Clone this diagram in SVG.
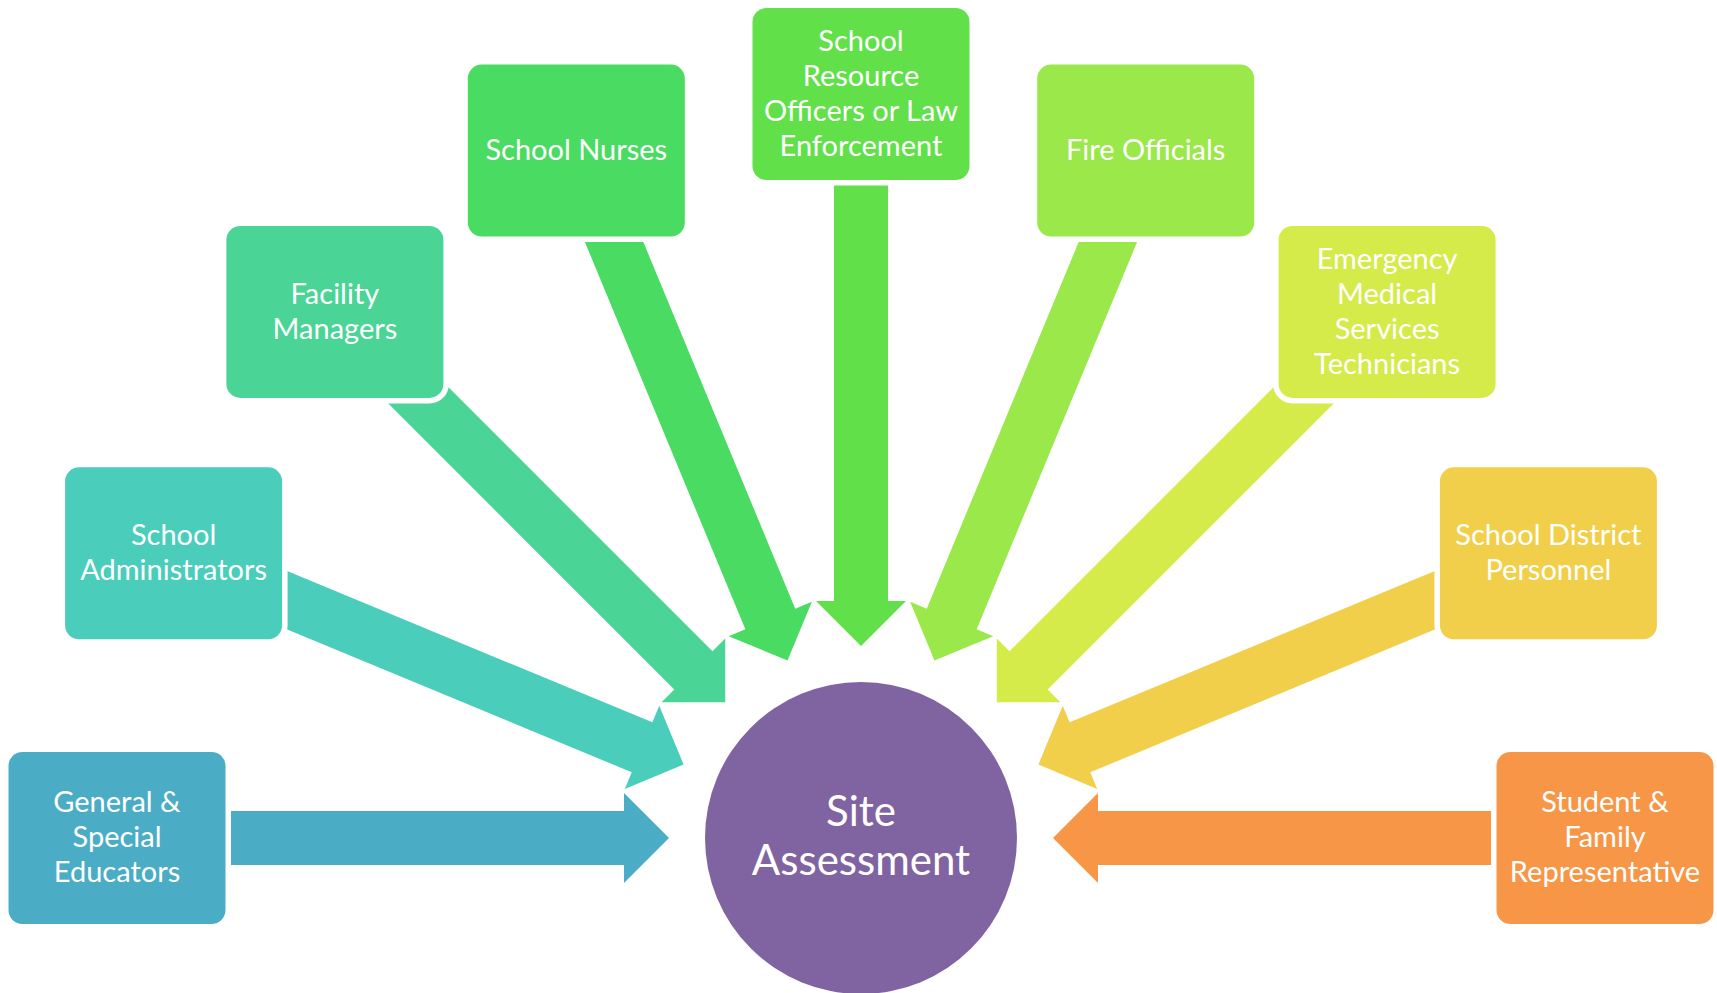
<svg xmlns="http://www.w3.org/2000/svg" xmlns:xlink="http://www.w3.org/1999/xlink" width="1717" height="993" viewBox="0 0 1717 993">
<style>
.box{stroke:#FFFFFF;stroke-width:11;paint-order:stroke}
.lbl{font-family:Lato,"Open Sans","Liberation Sans",sans-serif;font-size:29px;fill:#FFFFFF;text-anchor:middle}
.big{font-family:Lato,"Open Sans","Liberation Sans",sans-serif;font-size:42px;fill:#FFFFFF;text-anchor:middle}
</style>
<defs>
<path id="arr" d="M-744,-27 L-237,-27 L-237,-45 L-192,0 L-237,45 L-237,27 L-744,27 Z"/>
</defs>
<rect width="1717" height="993" fill="#FFFFFF"/>
<g id="connectors">
<use xlink:href="#arr" href="#arr" transform="translate(861,838) rotate(0)" fill="#4BACC6"/>
<use xlink:href="#arr" href="#arr" transform="translate(861,838) rotate(22.5)" fill="#4ACDBB"/>
<use xlink:href="#arr" href="#arr" transform="translate(861,838) rotate(45)" fill="#4AD495"/>
<use xlink:href="#arr" href="#arr" transform="translate(861,838) rotate(67.5)" fill="#4ADB62"/>
<use xlink:href="#arr" href="#arr" transform="translate(861,838) rotate(90)" fill="#61E04A"/>
<use xlink:href="#arr" href="#arr" transform="translate(861,838) rotate(112.5)" fill="#9AE84A"/>
<use xlink:href="#arr" href="#arr" transform="translate(861,838) rotate(135)" fill="#D4EB4A"/>
<use xlink:href="#arr" href="#arr" transform="translate(861,838) rotate(157.5)" fill="#F2CF4A"/>
<use xlink:href="#arr" href="#arr" transform="translate(861,838) rotate(180)" fill="#F79646"/>
</g>
<g id="center">
<circle cx="861" cy="838" r="156" fill="#8064A2"/>
<text class="big"><tspan x="861" y="826">Site</tspan><tspan x="861" y="875">Assessment</tspan></text>
</g>
<g id="n1">
<rect class="box" x="8.5" y="752" width="217" height="172" rx="14" fill="#4BACC6"/>
<text class="lbl"><tspan x="117" y="812">General &amp;</tspan><tspan x="117" y="847">Special</tspan><tspan x="117" y="882">Educators</tspan></text>
</g>
<g id="n2">
<rect class="box" x="65.1" y="467.3" width="217" height="172" rx="14" fill="#4ACDBB"/>
<text class="lbl"><tspan x="173.6" y="544.8">School</tspan><tspan x="173.6" y="579.8">Administrators</tspan></text>
</g>
<g id="n3">
<rect class="box" x="226.4" y="225.9" width="217" height="172" rx="14" fill="#4AD495"/>
<text class="lbl"><tspan x="334.9" y="303.9">Facility</tspan><tspan x="334.9" y="338.9">Managers</tspan></text>
</g>
<g id="n4">
<rect class="box" x="467.8" y="64.6" width="217" height="172" rx="14" fill="#4ADB62"/>
<text class="lbl"><tspan x="576.3" y="159.6">School Nurses</tspan></text>
</g>
<g id="n5">
<rect class="box" x="752.5" y="8" width="217" height="172" rx="14" fill="#61E04A"/>
<text class="lbl"><tspan x="861" y="50.5">School</tspan><tspan x="861" y="85.5">Resource</tspan><tspan x="861" y="120.5">Officers or Law</tspan><tspan x="861" y="155.5">Enforcement</tspan></text>
</g>
<g id="n6">
<rect class="box" x="1037.2" y="64.6" width="217" height="172" rx="14" fill="#9AE84A"/>
<text class="lbl"><tspan x="1145.7" y="159.6">Fire Officials</tspan></text>
</g>
<g id="n7">
<rect class="box" x="1278.6" y="225.9" width="217" height="172" rx="14" fill="#D4EB4A"/>
<text class="lbl"><tspan x="1387.1" y="268.9">Emergency</tspan><tspan x="1387.1" y="303.9">Medical</tspan><tspan x="1387.1" y="338.9">Services</tspan><tspan x="1387.1" y="373.9">Technicians</tspan></text>
</g>
<g id="n8">
<rect class="box" x="1439.9" y="467.3" width="217" height="172" rx="14" fill="#F2CF4A"/>
<text class="lbl"><tspan x="1548.4" y="544.8">School District</tspan><tspan x="1548.4" y="579.8">Personnel</tspan></text>
</g>
<g id="n9">
<rect class="box" x="1496.5" y="752" width="217" height="172" rx="14" fill="#F79646"/>
<text class="lbl"><tspan x="1605" y="812">Student &amp;</tspan><tspan x="1605" y="847">Family</tspan><tspan x="1605" y="882">Representative</tspan></text>
</g>
</svg>
